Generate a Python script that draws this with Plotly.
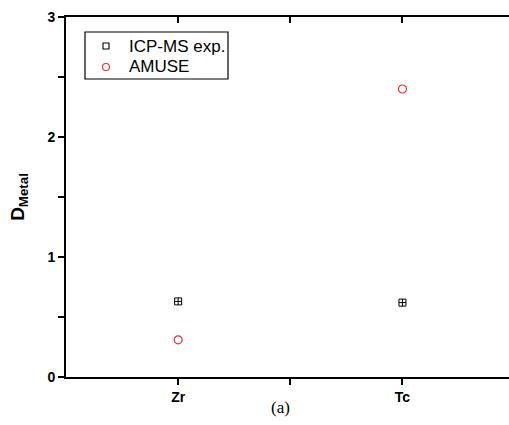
import plotly.graph_objects as go

categories = ["Zr", "Tc"]
icp_ms = [0.63, 0.62]
amuse = [0.31, 2.40]
y_ticks = [0, 1, 2, 3]
y_minor = [0.5, 1.5, 2.5]
legend_labels = ["ICP-MS exp.", "AMUSE"]

xpos = [i + 1 for i in range(len(categories))]
x_minor = [1.5]
red = "#e8303a"

fig = go.Figure()
fig.add_trace(go.Scatter(
    x=xpos, y=icp_ms, mode="markers", name=legend_labels[0], showlegend=False,
    marker=dict(symbol="square-cross-open", size=7, color="black", line=dict(width=1, color="black"))))
fig.add_trace(go.Scatter(
    x=xpos, y=amuse, mode="markers", name=legend_labels[1], showlegend=False,
    marker=dict(symbol="circle-open", size=8, color=red, line=dict(width=1.2, color=red))))
fig.add_trace(go.Scatter(x=[None], y=[None], xaxis="x2", showlegend=False, hoverinfo="skip"))

axis_font = dict(family="Liberation Sans, Arial", size=14, color="black")


def px_x(p):
    return (p - 66) / 443


def px_y(p):
    return 1 - (p - 17) / 360


# manual legend (box, symbols, labels)
fig.add_shape(type="rect", xref="paper", yref="paper", x0=px_x(85), x1=px_x(228), y0=px_y(32), y1=px_y(79),
              line=dict(color="black", width=1.2), fillcolor="white", layer="below")
fig.add_shape(type="rect", xref="paper", yref="paper", x0=px_x(103), x1=px_x(109), y0=px_y(43), y1=px_y(49),
              line=dict(color="black", width=1.1))
fig.add_shape(type="circle", xref="paper", yref="paper", x0=px_x(102.5), x1=px_x(109.5), y0=px_y(63.5), y1=px_y(70.5),
              line=dict(color=red, width=1.1))
for lbl, yy in zip(legend_labels, [46, 67]):
    fig.add_annotation(text=lbl, xref="paper", yref="paper", x=px_x(127), y=px_y(yy),
                       xanchor="left", yanchor="middle", showarrow=False,
                       font=dict(family="Liberation Sans, Arial", size=17, color="black"))

x_tickvals = xpos + x_minor
x_ticktext = ["<b>%s</b>" % c for c in categories] + ["" for _ in x_minor]
y_tickvals = y_ticks + y_minor
y_ticktext = ["<b>%d</b>" % v for v in y_ticks] + ["" for _ in y_minor]

fig.update_layout(
    width=509, height=425,
    margin=dict(l=66, r=0, t=17, b=48, autoexpand=False),
    paper_bgcolor="white", plot_bgcolor="white",
    showlegend=False,
    xaxis=dict(range=[0.5, 2.475], tickmode="array", tickvals=x_tickvals, ticktext=x_ticktext,
               ticks="outside", ticklen=6, tickwidth=2, tickcolor="black",
               showline=True, linecolor="black", linewidth=2, showgrid=False, zeroline=False,
               tickfont=axis_font, automargin=False),
    xaxis2=dict(overlaying="x", side="top", anchor="y", matches="x", tickmode="array",
                tickvals=x_tickvals, ticktext=["" for _ in x_tickvals],
                ticks="inside", ticklen=6, tickwidth=2, tickcolor="black",
                showline=True, linecolor="black", linewidth=2, showgrid=False, zeroline=False,
                automargin=False),
    yaxis=dict(range=[0, 3], tickmode="array", tickvals=y_tickvals, ticktext=y_ticktext,
               ticks="outside", ticklen=6, tickwidth=2, tickcolor="black",
               showline=True, linecolor="black", linewidth=2, showgrid=False, zeroline=False,
               tickfont=axis_font, automargin=False,
               title=dict(text="<b>D<sub>Metal</sub></b>", font=dict(family="Liberation Sans, Arial", size=19, color="black"), standoff=18)),
)

fig.add_annotation(text="(a)", xref="paper", yref="paper", x=px_x(280), y=px_y(408),
                   xanchor="center", yanchor="middle", showarrow=False,
                   font=dict(family="Liberation Serif, Times New Roman", size=17, color="black"))

fig.write_html("out.html", config={"displayModeBar": False},
               post_script="document.body.style.margin='0';document.body.style.overflow='hidden';")
